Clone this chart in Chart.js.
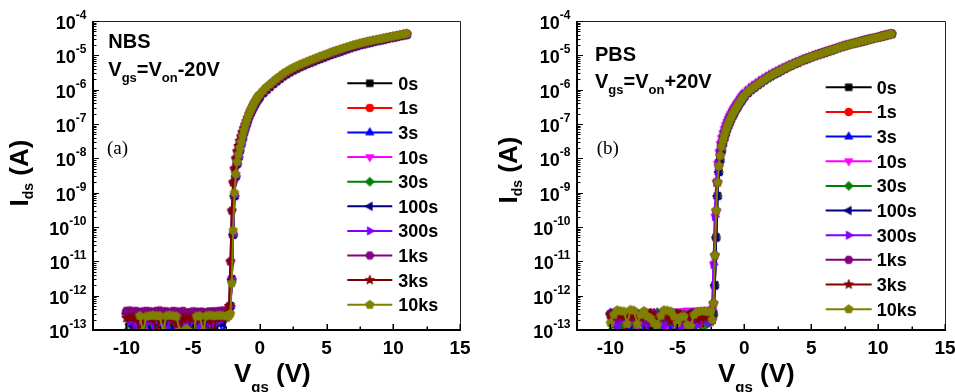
<!DOCTYPE html>
<html><head><meta charset="utf-8">
<script src="https://cdn.jsdelivr.net/npm/chart.js@4.4.1/dist/chart.umd.min.js"></script>
<style>
html,body{margin:0;padding:0;background:#fff;width:955px;height:392px;overflow:hidden}
#wrapA{position:absolute;left:0;top:0;width:475px;height:392px}
#wrapB{position:absolute;left:475px;top:0;width:480px;height:392px}
canvas{display:block}
</style></head><body>
<div id="wrapA"><canvas id="cA" width="475" height="392"></canvas></div>
<div id="wrapB"><canvas id="cB" width="480" height="392"></canvas></div>
<script>
// ---------------- DATA ----------------
const seriesNames = ['0s','1s','3s','10s','30s','100s','300s','1ks','3ks','10ks'];
const seriesColors = ['#000000','#FF0000','#0000FF','#FF00FF','#008000','#000080','#8000FF','#800080','#800000','#808000'];
const markerKinds = ['square','circle','triUp','triDown','diamond','triLeft','triRight','hexagon','star','pentagon'];
const xTickValues = [-10,-5,0,5,10,15];
const yTickExponents = [-4,-5,-6,-7,-8,-9,-10,-11,-12,-13];

// Vgs grid (V): off-state part and on-state part
const vgsOff = [-10,-9.75,-9.5,-9.25,-9,-8.75,-8.5,-8.25,-8,-7.75,-7.5,-7.25,-7,-6.75,-6.5,-6.25,-6,-5.75,-5.5,-5.25,-5,-4.75,-4.5,-4.25,-4,-3.75,-3.5,-3.25,-3,-2.75,-2.5];
const vgsOn = [-2.4,-2.3,-2.2,-2.1,-2.0,-1.9,-1.8,-1.7,-1.6,-1.5,-1.4,-1.3,-1.2,-1.1,-1.0,-0.9,-0.8,-0.7,-0.6,-0.5,-0.4,-0.3,-0.2,-0.1,0,
  0.25,0.5,0.75,1,1.25,1.5,1.75,2,2.25,2.5,2.75,3,3.25,3.5,3.75,4,4.25,4.5,4.75,5,5.25,5.5,5.75,6,6.25,6.5,6.75,7,7.25,7.5,7.75,8,8.25,8.5,8.75,9,9.25,9.5,9.75,10,10.25,10.5,10.75,11];

// ---- (a) NBS : off-state Ids (A) ----
const offA_0s   = [3e-13,2.7e-13,2.5e-13,9e-14,8e-14,3.2e-13,3e-13,2.8e-13,9e-14,3.1e-13,3e-13,2.6e-13,3.1e-13,2.9e-13,8e-14,3e-13,2.9e-13,3.3e-13,3.1e-13,2.7e-13,9e-14,3.2e-13,3.4e-13,3.3e-13,3.1e-13,3.5e-13,3.4e-13,3.2e-13,3.5e-13,3.6e-13,3.5e-13];
const offA_1s   = [2.8e-13,3e-13,9e-14,2.9e-13,3.1e-13,2.6e-13,8e-14,3e-13,2.9e-13,3.2e-13,3e-13,9e-14,2.7e-13,3e-13,3.1e-13,2.8e-13,8e-14,3e-13,3.2e-13,2.5e-13,3e-13,2.9e-13,9e-14,3e-13,3.2e-13,2.8e-13,3.1e-13,8e-14,3e-13,3.3e-13,3.2e-13];
const offA_3s   = [3.3e-13,1.6e-13,3e-13,1.4e-13,2.7e-13,9e-14,3.1e-13,1.5e-13,2.8e-13,8e-14,3.2e-13,1.7e-13,3e-13,1.3e-13,2.6e-13,3.3e-13,1.5e-13,2.7e-13,9e-14,3e-13,1.6e-13,2.9e-13,1.4e-13,3.2e-13,8e-14,3e-13,1.7e-13,3.1e-13,1.5e-13,8e-14,3.3e-13];
const offA_10s  = [2.5e-13,1.5e-13,3.2e-13,1.8e-13,9e-14,2.9e-13,1.4e-13,3e-13,1.6e-13,3.3e-13,1.3e-13,8e-14,2.8e-13,1.7e-13,3.1e-13,1.5e-13,2.7e-13,1.9e-13,3.2e-13,1.4e-13,9e-14,3.2e-13,1.6e-13,2.8e-13,1.5e-13,3.1e-13,8e-14,1.7e-13,3.4e-13,1.6e-13,3.4e-13];
const offA_30s  = [9e-14,1.8e-13,2.9e-13,1.4e-13,3e-13,8e-14,1.6e-13,2.8e-13,1.3e-13,2.9e-13,1.9e-13,9e-14,3.2e-13,1.5e-13,2.9e-13,1.7e-13,8e-14,2.8e-13,1.4e-13,2.9e-13,1.8e-13,3e-13,1.3e-13,2.8e-13,1.6e-13,9e-14,3.3e-13,1.5e-13,3.2e-13,1.8e-13,3.3e-13];
const offA_100s = [3.1e-13,1.5e-13,8e-14,1.9e-13,3e-13,1.3e-13,3.1e-13,9e-14,1.7e-13,2.9e-13,1.4e-13,3.2e-13,1.6e-13,3e-13,8e-14,1.8e-13,2.8e-13,1.3e-13,3.1e-13,1.5e-13,9e-14,2.8e-13,1.6e-13,2.8e-13,1.4e-13,2.9e-13,1.7e-13,8e-14,3.2e-13,1.5e-13,3.4e-13];
const offA_300s = [3.4e-13,1.7e-13,3.2e-13,1.4e-13,2.9e-13,3.2e-13,1.6e-13,3.3e-13,8e-14,3.1e-13,1.5e-13,3.2e-13,9e-14,1.8e-13,3.1e-13,1.4e-13,3.4e-13,1.6e-13,8e-14,3.1e-13,1.7e-13,3e-13,1.3e-13,3.4e-13,9e-14,3.2e-13,1.5e-13,3.3e-13,1.8e-13,3.5e-13,3.4e-13];
const offA_1ks  = [3.6e-13,3.7e-13,3.5e-13,3.6e-13,3.3e-13,3.5e-13,3.6e-13,3.5e-13,3.4e-13,3.6e-13,3.7e-13,3.5e-13,3.5e-13,3.3e-13,3.6e-13,3.4e-13,3.4e-13,3.6e-13,2.2e-13,3.3e-13,3.5e-13,3.4e-13,3.3e-13,3.2e-13,9e-14,3.3e-13,3.4e-13,3.5e-13,3.6e-13,3.7e-13,3.6e-13];
const offA_3ks  = [2.2e-13,2.3e-13,2.4e-13,2.1e-13,9e-14,2.2e-13,2.3e-13,2.2e-13,2.2e-13,8e-14,2.1e-13,2.3e-13,2.4e-13,2.2e-13,1.8e-13,1.5e-13,9e-14,2.1e-13,2.3e-13,2.2e-13,2.2e-13,2.1e-13,2e-13,2.3e-13,2.4e-13,2.1e-13,8e-14,2.2e-13,2.3e-13,2.4e-13,2.3e-13];
const offA_10ks = [null,null,null,null,2.6e-13,9e-14,2.5e-13,2.6e-13,2.7e-13,2.6e-13,2.6e-13,9e-14,2.6e-13,2.7e-13,2.6e-13,2.5e-13,9e-14,8e-14,1.1e-13,8e-14,9e-14,2.5e-13,2.6e-13,9e-14,2.6e-13,2.7e-13,2.6e-13,2.6e-13,2.7e-13,2.6e-13,2.6e-13];
// ---- (a) NBS : on-state Ids (A) ----
const onA_early = [3e-13,3.2e-13,5e-13,3e-12,6e-11,8e-10,3e-9,7e-9,1.1e-8,1.7e-8,2.6e-8,3.8e-8,5.5e-8,7.5e-8,1e-7,
  1.3e-7,1.7e-7,2.1e-7,2.5e-7,3e-7,3.6e-7,4.2e-7,4.9e-7,5.6e-7,6.3e-7,
  8e-7,1e-6,1.22e-6,1.47e-6,1.77e-6,2.1e-6,2.47e-6,2.85e-6,3.27e-6,3.7e-6,4.15e-6,4.6e-6,5.1e-6,5.6e-6,6.15e-6,6.7e-6,7.35e-6,8e-6,8.75e-6,9.5e-6,1.03e-5,1.12e-5,1.21e-5,1.3e-5,1.41e-5,1.52e-5,1.63e-5,1.75e-5,1.87e-5,2e-5,2.12e-5,2.25e-5,2.37e-5,2.5e-5,2.62e-5,2.75e-5,2.9e-5,3.05e-5,3.2e-5,3.35e-5,3.52e-5,3.7e-5,3.87e-5,4.05e-5];
const onA_late  = [3.4e-13,5e-13,1e-11,3e-10,2e-9,5e-9,1e-8,1.6e-8,2.3e-8,3.2e-8,4.4e-8,5.8e-8,7.5e-8,9.5e-8,1.2e-7,
  1.5e-7,1.9e-7,2.3e-7,2.8e-7,3.4e-7,4e-7,4.7e-7,5.4e-7,6.2e-7,7e-7,
  8.8e-7,1.1e-6,1.35e-6,1.62e-6,1.95e-6,2.3e-6,2.7e-6,3.1e-6,3.55e-6,4e-6,4.5e-6,5e-6,5.55e-6,6.1e-6,6.7e-6,7.3e-6,8e-6,8.7e-6,9.5e-6,1.03e-5,1.12e-5,1.22e-5,1.32e-5,1.42e-5,1.53e-5,1.65e-5,1.77e-5,1.9e-5,2.02e-5,2.15e-5,2.27e-5,2.4e-5,2.52e-5,2.65e-5,2.77e-5,2.9e-5,3.05e-5,3.2e-5,3.35e-5,3.5e-5,3.67e-5,3.85e-5,4.02e-5,4.2e-5];
const onA_10ks  = [2.5e-13,2.6e-13,3e-13,2.3e-12,8e-11,1e-9,3.5e-9,8e-9,1.3e-8,2e-8,3e-8,4.5e-8,6.5e-8,9e-8,1.2e-7,
  1.6e-7,2e-7,2.5e-7,3e-7,3.6e-7,4.3e-7,5e-7,5.8e-7,6.6e-7,7.5e-7,
  9.5e-7,1.2e-6,1.45e-6,1.75e-6,2.1e-6,2.5e-6,2.95e-6,3.4e-6,3.9e-6,4.4e-6,4.9e-6,5.4e-6,5.95e-6,6.5e-6,7.15e-6,7.8e-6,8.5e-6,9.3e-6,1.01e-5,1.1e-5,1.2e-5,1.3e-5,1.4e-5,1.5e-5,1.62e-5,1.75e-5,1.87e-5,2e-5,2.12e-5,2.25e-5,2.37e-5,2.5e-5,2.62e-5,2.75e-5,2.87e-5,3e-5,3.15e-5,3.3e-5,3.45e-5,3.6e-5,3.77e-5,3.95e-5,4.12e-5,4.3e-5];

// ---- (b) PBS : off-state Ids (A) ----
const offB_0s   = [2.8e-13,1.5e-13,9e-14,3e-13,1.7e-13,2.6e-13,1.4e-13,3e-13,8e-14,2.9e-13,1.6e-13,2.8e-13,9e-14,1.8e-13,3e-13,1.5e-13,2.5e-13,1.3e-13,8e-14,3.2e-13,1.6e-13,3.1e-13,1.4e-13,3.2e-13,1.7e-13,9e-14,3.3e-13,1.5e-13,3.2e-13,1.8e-13,3.5e-13];
const offB_1s   = [3e-13,2.8e-13,2.7e-13,2.9e-13,8e-14,3.1e-13,2.8e-13,2.9e-13,3e-13,2.7e-13,9e-14,2.6e-13,3.2e-13,3e-13,2.9e-13,2.8e-13,8e-14,3.1e-13,2.7e-13,2.9e-13,9e-14,3e-13,3.1e-13,3.3e-13,3.2e-13,3.4e-13,3.3e-13,8e-14,3.3e-13,3.4e-13,3.3e-13];
const offB_3s   = [3.2e-13,3.1e-13,3e-13,2.9e-13,2.8e-13,9e-14,3.1e-13,2.9e-13,2.7e-13,2.8e-13,3e-13,8e-14,2.9e-13,3.1e-13,3.2e-13,2.8e-13,2.6e-13,2.7e-13,9e-14,3.1e-13,2.9e-13,2.8e-13,3e-13,3.1e-13,8e-14,2.5e-13,3e-13,3.2e-13,3.1e-13,2.9e-13,2.5e-13];
const offB_10s  = [2.6e-13,2.9e-13,3.1e-13,3e-13,2.9e-13,3.2e-13,3.3e-13,3e-13,9e-14,2.8e-13,3e-13,3.2e-13,3.1e-13,3e-13,3e-13,2.7e-13,2.8e-13,8e-14,3.4e-13,3.2e-13,3.1e-13,3.5e-13,3.6e-13,3.7e-13,3.5e-13,3.6e-13,3.7e-13,3.8e-13,3.7e-13,3.9e-13,3.9e-13];
const offB_30s  = [9e-14,1.6e-13,2.9e-13,1.3e-13,3.1e-13,1.7e-13,2.7e-13,1.4e-13,3e-13,8e-14,9e-14,1.8e-13,2.8e-13,1.5e-13,3.2e-13,1.3e-13,3e-13,1.6e-13,2.6e-13,8e-14,8e-14,1.7e-13,2.9e-13,1.4e-13,3.1e-13,1.6e-13,2.7e-13,9e-14,9e-14,1.5e-13,3e-13];
const offB_100s = [3.1e-13,2.8e-13,2.6e-13,2.9e-13,3e-13,8e-14,8e-14,3e-13,2.9e-13,3.1e-13,3.2e-13,3e-13,2.7e-13,2.5e-13,9e-14,3e-13,3.1e-13,2.9e-13,2.8e-13,3e-13,3e-13,8e-14,8e-14,2.6e-13,3.2e-13,3e-13,2.9e-13,3.1e-13,2.8e-13,2.2e-13,1.8e-13];
const offB_300s = [2.4e-13,1.6e-13,1.2e-13,1.8e-13,2.2e-13,1.9e-13,1.5e-13,2.1e-13,2.6e-13,1.7e-13,1.1e-13,1.6e-13,2.3e-13,2.5e-13,2.4e-13,1.4e-13,1.3e-13,1.8e-13,2.1e-13,1.5e-13,1.1e-13,1.3e-13,1.2e-13,1.9e-13,2.4e-13,1.6e-13,1.4e-13,2e-13,2.2e-13,1.8e-13,1.6e-13];
const offB_1ks  = [2.9e-13,2.6e-13,2.2e-13,2.7e-13,3.1e-13,2.4e-13,1.8e-13,2.3e-13,2.7e-13,2.9e-13,3e-13,2.1e-13,1.6e-13,2.2e-13,2.8e-13,3e-13,3.1e-13,2.8e-13,2.5e-13,2.7e-13,2.9e-13,2.2e-13,1.7e-13,2.1e-13,2.6e-13,2.8e-13,3e-13,2.7e-13,2.4e-13,2.6e-13,2.8e-13];
const offB_3ks  = [2.7e-13,2.9e-13,3e-13,2.7e-13,2.4e-13,2.6e-13,2.9e-13,2.5e-13,1.9e-13,2.3e-13,2.8e-13,3e-13,3.1e-13,2.6e-13,2.2e-13,2.4e-13,2.7e-13,2.3e-13,1.8e-13,2.4e-13,3e-13,2.8e-13,2.6e-13,2.3e-13,2.9e-13,2.6e-13,2e-13,2.3e-13,2.5e-13,2.6e-13,2.7e-13];
const offB_10ks = [1.6e-13,2.8e-13,3.8e-13,3.6e-13,3.5e-13,1.5e-13,3.9e-13,3.7e-13,1.5e-13,2.8e-13,3.6e-13,2.5e-13,2.2e-13,1.6e-13,1.4e-13,2.6e-13,3.8e-13,3.7e-13,3.5e-13,2.5e-13,1.6e-13,2.4e-13,2.5e-13,1.4e-13,1.3e-13,2.8e-13,3.4e-13,3.5e-13,3.6e-13,3.4e-13,3.5e-13];
// ---- (b) PBS : on-state Ids (A) ----
const onB_base  = [2.5e-13,3e-13,2e-12,5e-11,8e-10,4e-9,9e-9,1.7e-8,2.7e-8,3.9e-8,5.4e-8,7.1e-8,9e-8,1.12e-7,1.37e-7,
  1.68e-7,2e-7,2.38e-7,2.8e-7,3.27e-7,3.8e-7,4.37e-7,5e-7,5.7e-7,6.4e-7,
  8e-7,9.8e-7,1.17e-6,1.38e-6,1.63e-6,1.9e-6,2.2e-6,2.5e-6,2.85e-6,3.2e-6,3.65e-6,4.1e-6,4.6e-6,5.1e-6,5.65e-6,6.2e-6,6.85e-6,7.5e-6,8.2e-6,8.9e-6,9.65e-6,1.04e-5,1.12e-5,1.21e-5,1.31e-5,1.41e-5,1.52e-5,1.64e-5,1.76e-5,1.89e-5,2.01e-5,2.14e-5,2.27e-5,2.41e-5,2.55e-5,2.7e-5,2.86e-5,3.02e-5,3.2e-5,3.38e-5,3.58e-5,3.78e-5,3.99e-5,4.2e-5];
const onB_left  = [4e-13,8e-12,2e-10,2e-9,7e-9,1.5e-8,2.6e-8,3.9e-8,5.4e-8,7.2e-8,9.3e-8,1.17e-7,1.43e-7,1.72e-7,2.03e-7,
  2.4e-7,2.8e-7,3.2e-7,3.7e-7,4.2e-7,4.8e-7,5.5e-7,6.2e-7,7e-7,7.8e-7,
  9.6e-7,1.16e-6,1.37e-6,1.6e-6,1.87e-6,2.15e-6,2.47e-6,2.8e-6,3.17e-6,3.55e-6,4e-6,4.45e-6,4.95e-6,5.45e-6,6e-6,6.6e-6,7.25e-6,7.9e-6,8.6e-6,9.35e-6,1.01e-5,1.09e-5,1.17e-5,1.26e-5,1.36e-5,1.46e-5,1.57e-5,1.69e-5,1.81e-5,1.94e-5,2.06e-5,2.19e-5,2.32e-5,2.46e-5,2.6e-5,2.75e-5,2.91e-5,3.07e-5,3.25e-5,3.43e-5,3.63e-5,3.83e-5,4.04e-5,4.25e-5];
const onB_late  = [2e-13,6e-13,1.5e-11,3e-10,2e-9,6e-9,1.2e-8,2.2e-8,3.3e-8,4.6e-8,6.2e-8,8e-8,1e-7,1.25e-7,1.5e-7,
  1.85e-7,2.2e-7,2.6e-7,3e-7,3.5e-7,4e-7,4.6e-7,5.3e-7,6e-7,6.8e-7,
  8.5e-7,1.03e-6,1.22e-6,1.43e-6,1.68e-6,1.95e-6,2.27e-6,2.6e-6,2.95e-6,3.3e-6,3.75e-6,4.2e-6,4.7e-6,5.2e-6,5.75e-6,6.3e-6,6.95e-6,7.6e-6,8.3e-6,9e-6,9.75e-6,1.05e-5,1.13e-5,1.22e-5,1.32e-5,1.42e-5,1.53e-5,1.65e-5,1.77e-5,1.9e-5,2.02e-5,2.15e-5,2.28e-5,2.42e-5,2.56e-5,2.7e-5,2.86e-5,3.02e-5,3.2e-5,3.38e-5,3.58e-5,3.78e-5,3.99e-5,4.2e-5];

const seriesA = [
  [offA_0s, onA_early],[offA_1s, onA_early],[offA_3s, onA_early],[offA_10s, onA_early],[offA_30s, onA_early],
  [offA_100s, onA_early],[offA_300s, onA_early],[offA_1ks, onA_late],[offA_3ks, onA_late],[offA_10ks, onA_10ks]
];
const seriesB = [
  [offB_0s, onB_base],[offB_1s, onB_base],[offB_3s, onB_base],[offB_10s, onB_left],[offB_30s, onB_base],
  [offB_100s, onB_base],[offB_300s, onB_left],[offB_1ks, onB_late],[offB_3ks, onB_late],[offB_10ks, onB_late]
];

// ---------------- RENDERING ----------------
const SANS = '"Liberation Sans", Arial, Helvetica, sans-serif';
const SERIF = '"Liberation Serif", "Times New Roman", serif';

function makeMarker(kind, color) {
  const c = document.createElement('canvas');
  c.width = 12; c.height = 12;
  const g = c.getContext('2d');
  g.fillStyle = color; g.strokeStyle = color; g.lineWidth = 0.8;
  const cx = 6, cy = 6;
  g.beginPath();
  const poly = (n, r, rot) => {
    for (let i = 0; i < n; i++) {
      const a = rot + i * 2 * Math.PI / n;
      const px = cx + r * Math.cos(a), py = cy + r * Math.sin(a);
      if (i) g.lineTo(px, py); else g.moveTo(px, py);
    }
    g.closePath();
  };
  switch (kind) {
    case 'square': g.rect(cx - 3.3, cy - 3.3, 6.6, 6.6); break;
    case 'circle': g.arc(cx, cy, 3.9, 0, 2 * Math.PI); break;
    case 'triUp': poly(3, 4.8, -Math.PI / 2); break;
    case 'triDown': poly(3, 4.8, Math.PI / 2); break;
    case 'diamond': poly(4, 4.5, -Math.PI / 2); break;
    case 'triLeft': poly(3, 4.8, Math.PI); break;
    case 'triRight': poly(3, 4.8, 0); break;
    case 'hexagon': poly(6, 4.3, 0); break;
    case 'star':
      for (let i = 0; i < 10; i++) {
        const a = -Math.PI / 2 + i * Math.PI / 5, r = (i % 2) ? 2.1 : 5.0;
        const px = cx + r * Math.cos(a), py = cy + r * Math.sin(a);
        if (i) g.lineTo(px, py); else g.moveTo(px, py);
      }
      g.closePath(); break;
    case 'pentagon': poly(5, 4.5, -Math.PI / 2); break;
  }
  g.fill(); g.stroke();
  return c;
}

function richWidth(ctx, parts) {
  let w = 0;
  for (const p of parts) { ctx.font = p.f; w += ctx.measureText(p.t).width; }
  return w;
}
function drawRich(ctx, parts, x, y) {
  let cx = x;
  for (const p of parts) {
    ctx.font = p.f;
    ctx.fillText(p.t, cx, y + (p.dy || 0));
    cx += ctx.measureText(p.t).width;
  }
}

const decoPlugin = {
  id: 'deco',
  afterDatasetsDraw(chart, args, o) {
    const ctx = chart.ctx, a = chart.chartArea, xs = chart.scales.x, ys = chart.scales.y;
    ctx.save();
    ctx.fillStyle = '#000';
    ctx.textBaseline = 'alphabetic';
    // frame: thin top/right, thick left/bottom
    ctx.strokeStyle = '#222'; ctx.lineWidth = 1;
    ctx.beginPath();
    ctx.moveTo(a.left, a.top + 0.5); ctx.lineTo(a.right + 0.5, a.top + 0.5); ctx.lineTo(a.right + 0.5, a.bottom);
    ctx.stroke();
    ctx.strokeStyle = '#000'; ctx.lineWidth = 2;
    ctx.beginPath();
    ctx.moveTo(a.left, a.top); ctx.lineTo(a.left, a.bottom + 1);
    ctx.moveTo(a.left - 1, a.bottom); ctx.lineTo(a.right + 1, a.bottom);
    ctx.stroke();
    // x ticks (inward), major every 5, minor every 2.5
    ctx.lineWidth = 1.5;
    ctx.beginPath();
    for (let k = -4; k <= 6; k++) {
      const v = k * 2.5, px = Math.round(xs.getPixelForValue(v)) + 0.25;
      const len = (k % 2 === 0) ? 6 : 3.5;
      ctx.moveTo(px, a.bottom); ctx.lineTo(px, a.bottom - len);
    }
    ctx.stroke();
    // y ticks (inward), decades + minor
    ctx.lineWidth = 1;
    ctx.beginPath();
    for (const e of yTickExponents) {
      const py = Math.round(ys.getPixelForValue(Math.pow(10, e))) + 0.5;
      ctx.moveTo(a.left, py); ctx.lineTo(a.left + 6, py);
      if (e > -13) {
        for (let m = 2; m <= 9; m++) {
          const pm = Math.round(ys.getPixelForValue(m * Math.pow(10, e - 1))) + 0.5;
          ctx.moveTo(a.left, pm); ctx.lineTo(a.left + 3.5, pm);
        }
      }
    }
    ctx.stroke();
    // x tick labels
    ctx.font = 'bold 19px ' + SANS;
    ctx.textAlign = 'center';
    for (const v of xTickValues) ctx.fillText(String(v), xs.getPixelForValue(v), a.bottom + 24);
    // y tick labels 10^e
    ctx.textAlign = 'left';
    for (const e of yTickExponents) {
      const py = ys.getPixelForValue(Math.pow(10, e));
      ctx.font = 'bold 12px ' + SANS; const sw = ctx.measureText(String(e)).width;
      ctx.font = 'bold 18px ' + SANS; const mw = ctx.measureText('10').width;
      const xe = a.left - 6.5;
      ctx.fillText('10', xe - sw - mw, py + 8);
      ctx.font = 'bold 12px ' + SANS;
      ctx.fillText(String(e), xe - sw, py - 2);
    }
    // axis titles
    const yParts = [{t: 'I', f: 'bold 26px ' + SANS}, {t: 'ds', f: 'bold 14px ' + SANS, dy: 5}, {t: ' (A)', f: 'bold 26px ' + SANS}];
    ctx.save();
    ctx.translate(o.yTitleX, o.yTitleY); ctx.rotate(-Math.PI / 2);
    drawRich(ctx, yParts, -richWidth(ctx, yParts) / 2, 0);
    ctx.restore();
    const xParts = [{t: 'V', f: 'bold 26px ' + SANS}, {t: 'gs', f: 'bold 15px ' + SANS, dy: 10}, {t: ' (V)', f: 'bold 26px ' + SANS}];
    drawRich(ctx, xParts, a.left + 141, 381.5);
    // annotations
    drawRich(ctx, [{t: o.label, f: 'bold 20px ' + SANS}], o.annX, o.annY1);
    drawRich(ctx, [
      {t: 'V', f: 'bold 20px ' + SANS}, {t: 'gs', f: 'bold 13px ' + SANS, dy: 5.5},
      {t: '=V', f: 'bold 20px ' + SANS}, {t: 'on', f: 'bold 13px ' + SANS, dy: 5.5},
      {t: o.shift, f: 'bold 20px ' + SANS}
    ], o.annX, o.annY2);
    ctx.font = '19px ' + SERIF;
    ctx.fillText(o.panel, o.panelX, o.panelY);
    // legend
    const ds = chart.data.datasets;
    for (let i = 0; i < ds.length; i++) {
      const cy = o.legTop + i * o.legStep;
      ctx.strokeStyle = ds[i].borderColor; ctx.lineWidth = 2;
      ctx.beginPath(); ctx.moveTo(o.legX1, cy); ctx.lineTo(o.legX2, cy); ctx.stroke();
      const img = ds[i].pointStyle;
      ctx.drawImage(img, (o.legX1 + o.legX2) / 2 - img.width / 2, cy - img.height / 2);
      ctx.fillStyle = '#000';
      ctx.font = 'bold 18px ' + SANS;
      ctx.fillText(ds[i].label, o.legTextX, cy + 6.5);
    }
    ctx.restore();
  }
};

function buildDatasets(series) {
  return series.map((s, i) => {
    const pts = [];
    s[0].forEach((y, k) => { if (y !== null && vgsOff[k] !== undefined) pts.push({x: vgsOff[k], y: y}); });
    s[1].forEach((y, k) => { if (y !== null && vgsOn[k] !== undefined) pts.push({x: vgsOn[k], y: y}); });
    const marker = makeMarker(markerKinds[i], seriesColors[i]);
    return {
      label: seriesNames[i], data: pts,
      borderColor: seriesColors[i], backgroundColor: seriesColors[i],
      borderWidth: 2, pointStyle: marker, pointRadius: 4, pointHoverRadius: 4,
      tension: 0, clip: 0, order: seriesNames.length - 1 - i
    };
  });
}

function makeChart(id, series, pad, deco) {
  return new Chart(document.getElementById(id), {
    type: 'line',
    data: {datasets: buildDatasets(series)},
    options: {
      responsive: false, animation: false, events: [],
      layout: {padding: pad},
      scales: {
        x: {type: 'linear', min: -12.5, max: 15, display: false},
        y: {type: 'logarithmic', min: 1e-13, max: 1e-4, display: false}
      },
      plugins: {legend: {display: false}, tooltip: {enabled: false}, deco: deco}
    },
    plugins: [decoPlugin]
  });
}

makeChart('cA', seriesA, {left: 93, right: 15, top: 21, bottom: 62}, {
  yTitleX: 28.3, yTitleY: 173, label: 'NBS', shift: '-20V', annX: 108.3, annY1: 48, annY2: 76,
  panel: '(a)', panelX: 107, panelY: 154,
  legX1: 347.3, legX2: 392.3, legTextX: 398.3, legTop: 83.3, legStep: 24.6
});
makeChart('cB', seriesB, {left: 102, right: 10, top: 21, bottom: 62}, {
  yTitleX: 41.7, yTitleY: 170, label: 'PBS', shift: '+20V', annX: 120, annY1: 61, annY2: 88,
  panel: '(b)', panelX: 121.7, panelY: 154,
  legX1: 350.7, legX2: 396.7, legTextX: 401.7, legTop: 87.3, legStep: 24.65
});
</script>
</body></html>
